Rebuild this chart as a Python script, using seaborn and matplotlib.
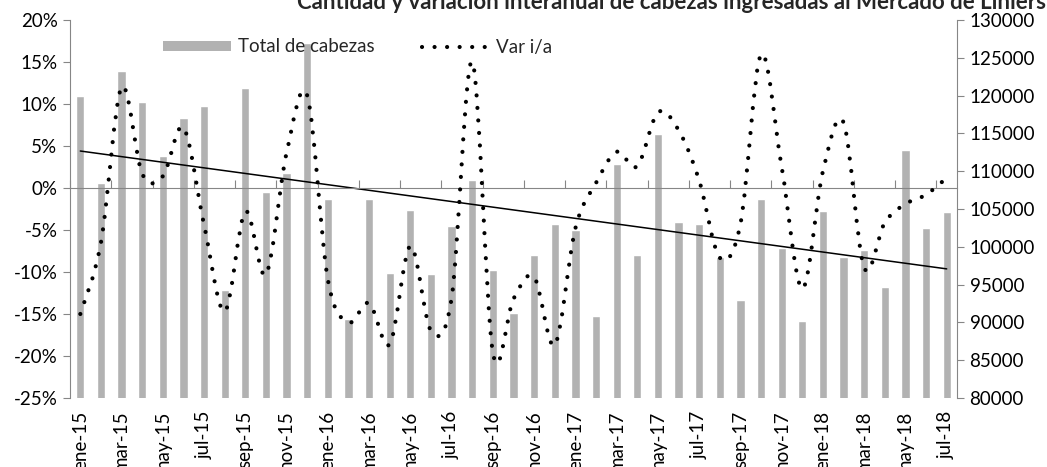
import numpy as np
import pandas as pd
import matplotlib
matplotlib.use("Agg")
import matplotlib.pyplot as plt
from matplotlib.path import Path
from matplotlib.patches import PathPatch, Patch
from matplotlib.lines import Line2D
import seaborn as sns

TITLE = "Cantidad y variación interanual de cabezas ingresadas al Mercado de Liniers"

months = [
    "ene-15", "feb-15", "mar-15", "abr-15", "may-15", "jun-15", "jul-15", "ago-15", "sep-15", "oct-15", "nov-15", "dic-15",
    "ene-16", "feb-16", "mar-16", "abr-16", "may-16", "jun-16", "jul-16", "ago-16", "sep-16", "oct-16", "nov-16", "dic-16",
    "ene-17", "feb-17", "mar-17", "abr-17", "may-17", "jun-17", "jul-17", "ago-17", "sep-17", "oct-17", "nov-17", "dic-17",
    "ene-18", "feb-18", "mar-18", "abr-18", "may-18", "jun-18", "jul-18",
]

# total de cabezas (eje derecho)
total_cabezas = [
    119900, 108400, 123200, 119100, 112000, 117000, 118600, 94300, 121000, 107200, 109800, 127000,
    106300, 90400, 106300, 96600, 104900, 96400, 102800, 108900, 96900, 91200, 98900, 103000,
    102200, 90900, 110900, 98900, 114900, 103300, 103000, 98600, 92900, 106300, 99800, 90200,
    104700, 98700, 99600, 94700, 112800, 102500, 104600,
]

# variacion interanual en % (eje izquierdo)
var_ia = [
    -15.0, -6.5, 12.0, 1.7, 1.4, 7.2, -4.4, -14.7, -2.8, -10.3, 4.2, 11.0,
    -10.9, -16.0, -13.7, -18.6, -6.9, -17.0, -13.1, 15.0, -19.6, -13.2, -10.6, -18.7,
    -4.8, 0.6, 4.3, 2.6, 9.0, 6.9, 0.9, -8.3, -4.3, 15.9, 2.5, -12.0,
    2.0, 7.8, -9.5, -4.1, -1.9, -0.8, 1.2,
]

left_ticks = list(range(-25, 21, 5))
right_ticks = list(range(80000, 130001, 5000))

BAR_COLOR = "#b2b2b2"
AXIS_COLOR = "#868686"
FS = 13.5

sns.set_theme(style="white")
plt.rcParams["font.family"] = ["Lato", "DejaVu Sans"]


def smooth_path(xs, ys):
    # curva suavizada tipo Excel (bezier cubica por tramos)
    pts = np.column_stack([xs, ys]).astype(float)
    n = len(pts)
    verts = [pts[0]]
    codes = [Path.MOVETO]
    for i in range(n - 1):
        p_prev = pts[max(i - 1, 0)]
        p0 = pts[i]
        p1 = pts[i + 1]
        p_next = pts[min(i + 2, n - 1)]
        c1 = p0 + (p1 - p_prev) / 6.0
        c2 = p1 - (p_next - p0) / 6.0
        verts += [c1, c2, p1]
        codes += [Path.CURVE4] * 3
    return Path(verts, codes)


df = pd.DataFrame({"mes": months, "cabezas": total_cabezas, "var": var_ia})
x = np.arange(len(months))

fig = plt.figure(figsize=(10.47, 4.67), dpi=100)
ax_bar = fig.add_axes([70 / 1047, 1 - 398 / 467, (957 - 70) / 1047, (398 - 20) / 467])

sns.barplot(data=df, x="mes", y="cabezas", color=BAR_COLOR, saturation=1, width=0.4, ax=ax_bar)

# tendencia lineal de las cabezas
coef = np.polyfit(x, df["cabezas"], 1)
ax_bar.plot(x, np.polyval(coef, x), color="black", lw=1.1, zorder=3)

ax_bar.set_xlim(-0.5, len(months) - 0.5)
ax_bar.set_ylim(80000, 130000)
ax_bar.set_xlabel("")
ax_bar.set_ylabel("")

ax_var = ax_bar.twinx()
ax_var.set_ylim(-25, 20)

# barras a la derecha, variacion a la izquierda
ax_bar.yaxis.tick_right()
ax_var.yaxis.tick_left()
ax_bar.set_yticks(right_ticks)
ax_bar.set_yticklabels([str(v) for v in right_ticks])
ax_var.set_yticks(left_ticks)
ax_var.set_yticklabels([f"{v}%" for v in left_ticks])

curve = PathPatch(smooth_path(x, df["var"]), facecolor="none", edgecolor="black",
                  lw=3.0, linestyle=(0, (0.01, 3.0)), capstyle="round", zorder=4)
ax_var.add_patch(curve)

# etiquetas del eje x abajo, cada dos meses
ax_bar.set_xticks(x[::2])
ax_bar.set_xticklabels(months[::2], rotation=90)
ax_bar.tick_params(axis="x", length=0, pad=9, labelsize=FS, colors="black")

for a in (ax_bar, ax_var):
    for s in a.spines.values():
        s.set_visible(False)
    a.tick_params(axis="y", direction="out", length=5, width=0.8, color=AXIS_COLOR,
                  labelsize=FS, labelcolor="black", pad=4)
    a.grid(False)
ax_bar.spines["right"].set_visible(True)
ax_bar.spines["right"].set_color(AXIS_COLOR)
ax_bar.spines["right"].set_linewidth(0.8)
ax_var.spines["left"].set_visible(True)
ax_var.spines["left"].set_color(AXIS_COLOR)
ax_var.spines["left"].set_linewidth(0.8)

# eje de categorias cruzando en 0%
sec = ax_var.secondary_xaxis(0, transform=ax_var.transData)
sec.set_xticks(np.arange(-0.5, len(months) - 1, 2))
sec.tick_params(axis="x", direction="in", length=6, width=0.8, color=AXIS_COLOR,
                labeltop=False, labelbottom=False)
for s in sec.spines.values():
    s.set_color(AXIS_COLOR)
    s.set_linewidth(0.8)

handles = [
    Patch(facecolor=BAR_COLOR, edgecolor="none"),
    Line2D([], [], color="black", lw=3.0, linestyle=(0, (0.01, 3.0)), dash_capstyle="round"),
]
fig.legend(handles, ["Total de cabezas", "Var i/a"], loc="center left",
           bbox_to_anchor=(163 / 1047, 1 - 47 / 467), ncol=2, frameon=False,
           handlelength=3.6, handleheight=0.4, handletextpad=0.4, columnspacing=2.5,
           borderpad=0, borderaxespad=0, fontsize=FS)

fig.text(297 / 1047, 1 - 9 / 467, TITLE, ha="left", va="baseline",
         fontsize=16, fontweight="bold")

fig.savefig("out.png", dpi=100)
